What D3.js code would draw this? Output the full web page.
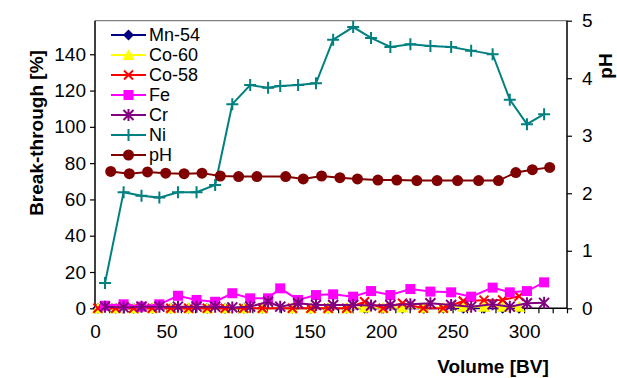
<!DOCTYPE html>
<html>
<head>
<meta charset="utf-8">
<script src="https://cdn.jsdelivr.net/npm/d3@7"></script>
<style>
  html, body { margin: 0; padding: 0; background: #fff; }
  svg { display: block; font-family: "Liberation Sans", Arial, sans-serif; }
</style>
</head>
<body>
<svg id="chart" width="617" height="378"></svg>
<script>
// Volume (BV) sampling points
const volMetal = [7, 20, 32.5, 45, 58, 71, 84, 96, 108.5, 121, 129.5, 142, 154.5, 166.5, 180.5, 193, 206.5, 220.5, 234.5, 249, 263, 278, 290, 302, 314];
const volRad = [2, 14.5, 27, 40, 53, 65.5, 78.5, 91, 104, 117, 138, 151, 163, 176, 188.5, 201.5, 215, 229.5, 243.5, 257.5, 272, 285, 296.5];
const volPH = [11, 24, 36.7, 49.4, 62.3, 74.8, 87.6, 100.4, 113.2, 133.3, 145.6, 158.4, 171.2, 183.5, 197.8, 211, 225, 239.2, 253.5, 268.2, 282.1, 294.2, 305.8, 317.9];

// Break-through [%]
const mn54 = [0, 0, 0, 0, 0, 0, 0, 0, 0, 0, 0, 0, 0, 0, 0, 0, 0, 0, 0, 0, 0, 0, 0];
const co60 = [0, 0, 0, 0, 0, 0, 0, 0, 0, 0, 0, 0, 0, 0, 0.5, 0.3, 0.5, 0.3, 0.5, 0.8, 0.8, 0.8, 0.8];
const co58 = [0, 0, 0, 0, 0, 0, 0, 0, 0, 0, 0, 0, 0, 0, 3.6, 0, 2.8, 0, 0, 4, 4.5, 4.6, 6.6];
const fe = [1.4, 2.2, 0.9, 2.2, 6.9, 4.6, 3.6, 8.3, 5.5, 5.5, 11, 4.6, 7.3, 7.7, 6.4, 9.5, 7.3, 10.6, 9.2, 8.8, 6.4, 11.4, 8.8, 9.5, 14.3];
const cr = [0.9, 0.5, 0.9, 0.9, 0.9, 0.9, 0.9, 0.5, 0.9, 3.6, 0.9, 2.8, 1.8, 1.8, 1.8, 1.5, 1.8, 2.2, 2.8, 1.8, 0.9, 2.2, 0.9, 2.8, 3.0];
const ni = [14, 64, 62, 61, 64, 64, 68, 112.5, 123, 121.5, 122.5, 123, 124, 148, 155, 149, 144, 145.5, 144.5, 144, 142, 140, 115, 101.5, 107];
// pH (right axis)
const ph = [2.38, 2.34, 2.37, 2.35, 2.34, 2.35, 2.30, 2.29, 2.29, 2.29, 2.25, 2.30, 2.27, 2.25, 2.23, 2.23, 2.22, 2.22, 2.22, 2.22, 2.22, 2.36, 2.41, 2.45];

const xTicks = [0, 50, 100, 150, 200, 250, 300];
const yLeftTicks = [0, 20, 40, 60, 80, 100, 120, 140];
const yRightTicks = [0, 1, 2, 3, 4, 5];

const svg = d3.select("#chart");
const L = 95, R = 567, T = 20.7, B = 308.3;

const x = d3.scaleLinear().domain([0, 330]).range([L, R]);
const yL = d3.scaleLinear().domain([0, 158.5]).range([B, T]);
const yR = d3.scaleLinear().domain([0, 5]).range([B, T]);

// plot frame: grey top edge
svg.append("line").attr("x1", L).attr("x2", R).attr("y1", T).attr("y2", T)
  .attr("stroke", "#808080").attr("stroke-width", 1.2);

// axes
const fontSize = 19;
const axLeft = svg.append("g").attr("transform", `translate(${L},0)`)
  .call(d3.axisLeft(yL).tickValues(yLeftTicks).tickSize(5).tickPadding(4));
const axRight = svg.append("g").attr("transform", `translate(${R},0)`)
  .call(d3.axisRight(yR).tickValues(yRightTicks).tickFormat(d3.format("d")).tickSize(5).tickPadding(10));
const axBottom = svg.append("g").attr("transform", `translate(0,${B})`)
  .call(d3.axisBottom(x).tickValues(d3.range(0, 331, 10)).tickSize(5)
    .tickFormat(d => xTicks.includes(d) ? d : "").tickPadding(11));

[axLeft, axRight, axBottom].forEach(g => {
  g.selectAll("path.domain").attr("stroke", "#000").attr("stroke-width", 1.5);
  g.selectAll(".tick line").attr("stroke", "#000").attr("stroke-width", 1.2);
  g.selectAll(".tick text").attr("fill", "#000").style("font-size", fontSize + "px")
    .style("font-family", '"Liberation Sans", Arial, sans-serif');
});
// axis paths without end caps beyond plot
axLeft.select("path.domain").attr("d", `M0,${T}V${B}`);
axRight.select("path.domain").attr("d", `M0,${T}V${B}`);
axBottom.select("path.domain").attr("d", `M${L},0H${R}`);

// axis titles
svg.append("text").attr("transform", `translate(36,133) rotate(-90)`)
  .attr("text-anchor", "middle").attr("dominant-baseline", "central")
  .style("font-size", "19px").style("font-weight", "bold").text("Break-through [%]");
svg.append("text").attr("transform", `translate(605,66) rotate(-90)`)
  .attr("text-anchor", "middle").attr("dominant-baseline", "central")
  .style("font-size", "19px").style("font-weight", "bold").text("pH");
svg.append("text").attr("x", 493).attr("y", 366)
  .attr("text-anchor", "middle").attr("dominant-baseline", "central")
  .style("font-size", "19px").style("font-weight", "bold").text("Volume [BV]");

// marker drawing
function marker(g, type, color) {
  switch (type) {
    case "diamond":
      g.append("path").attr("d", "M0,-5.5L5.5,0L0,5.5L-5.5,0Z").attr("fill", color);
      break;
    case "triangle":
      g.append("path").attr("d", "M0,-6L6,5L-6,5Z").attr("fill", color);
      break;
    case "x":
      g.append("path").attr("d", "M-4.5,-4.5L4.5,4.5M-4.5,4.5L4.5,-4.5").attr("stroke", color).attr("stroke-width", 2).attr("fill", "none");
      break;
    case "square":
      g.append("rect").attr("x", -5).attr("y", -5).attr("width", 10).attr("height", 10).attr("fill", color);
      break;
    case "star":
      g.append("path").attr("d", "M-5,-5L5,5M-5,5L5,-5M0,-6V6").attr("stroke", color).attr("stroke-width", 2).attr("fill", "none");
      break;
    case "plus":
      g.append("path").attr("d", "M-6,0H6M0,-6V6").attr("stroke", color).attr("stroke-width", 2).attr("fill", "none");
      break;
    case "circle":
      g.append("circle").attr("r", 5.5).attr("fill", color);
      break;
  }
}

const series = [
  { name: "Mn-54", xs: volRad, ys: mn54, scale: yL, color: "#000080", type: "diamond" },
  { name: "Co-60", xs: volRad, ys: co60, scale: yL, color: "#FFFF00", type: "triangle" },
  { name: "Co-58", xs: volRad, ys: co58, scale: yL, color: "#FF0000", type: "x" },
  { name: "Fe", xs: volMetal, ys: fe, scale: yL, color: "#FF00FF", type: "square" },
  { name: "Cr", xs: volMetal, ys: cr, scale: yL, color: "#800080", type: "star" },
  { name: "Ni", xs: volMetal, ys: ni, scale: yL, color: "#008080", type: "plus" },
  { name: "pH", xs: volPH, ys: ph, scale: yR, color: "#800000", type: "circle" }
];

const plot = svg.append("g");
series.forEach(s => {
  const pts = s.xs.map((v, i) => [v, s.ys[i]]);
  const line = d3.line().x(d => x(d[0])).y(d => s.scale(d[1]));
  const g = plot.append("g");
  g.append("path").attr("d", line(pts)).attr("fill", "none")
    .attr("stroke", s.color).attr("stroke-width", 2);
  pts.forEach(p => {
    marker(g.append("g").attr("transform", `translate(${x(p[0])},${s.scale(p[1])})`), s.type, s.color);
  });
});

// legend
const legend = svg.append("g");
series.forEach((s, i) => {
  const yy = 35 + i * 20;
  const g = legend.append("g").attr("transform", `translate(0,${yy})`);
  g.append("line").attr("x1", 111).attr("x2", 146).attr("y1", 0).attr("y2", 0)
    .attr("stroke", s.color).attr("stroke-width", 2);
  marker(g.append("g").attr("transform", "translate(128.5,0)"), s.type, s.color);
  g.append("text").attr("x", 149).attr("y", 0).attr("dominant-baseline", "central")
    .style("font-size", "18px").text(s.name);
});
</script>
</body>
</html>
